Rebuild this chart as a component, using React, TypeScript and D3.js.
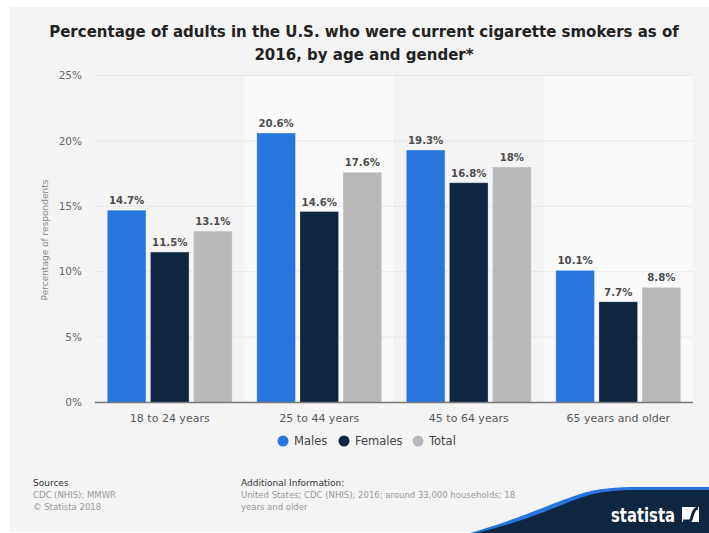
import React from "react";
import * as d3 from "d3";

const categories = ["18 to 24 years", "25 to 44 years", "45 to 64 years", "65 years and older"];
const seriesNames = ["Males", "Females", "Total"];
const males = [14.7, 20.6, 19.3, 10.1];
const females = [11.5, 14.6, 16.8, 7.7];
const total = [13.1, 17.6, 18, 8.8];
const yTicks = [0, 5, 10, 15, 20, 25];
const colors = ["#2876dd", "#0f2640", "#b9b9b9"];
const valueLabels = [
  ["14.7%", "20.6%", "19.3%", "10.1%"],
  ["11.5%", "14.6%", "16.8%", "7.7%"],
  ["13.1%", "17.6%", "18%", "8.8%"],
];

const W = 709;
const H = 533;
const FONT = "'DejaVu Sans', sans-serif";

export default function App() {
  const series = [males, females, total];
  const x0 = d3.scaleBand<string>().domain(categories).range([95, 693]).paddingInner(0).paddingOuter(0);
  const x1 = d3
    .scaleBand<string>()
    .domain(seriesNames)
    .range([0, x0.bandwidth()])
    .paddingInner(0.105)
    .paddingOuter(0.286);
  const y = d3.scaleLinear().domain([0, 25]).range([402.5, 75.5]);

  const legendItems = [
    { name: "Males", cx: 283 },
    { name: "Females", cx: 344 },
    { name: "Total", cx: 418 },
  ];

  const logoPath = "M 476,533 C 528,521 556,506 583,497 C 600,491.5 616,490 640,490 L 709,490 L 709,533 Z";
  const logoBlue = "M 470,533 C 522,518 552,503 580,494 C 598,488.5 615,487 640,487 L 709,487 L 709,533 Z";

  return (
    <svg
      width={W}
      height={H}
      style={{ position: "absolute", left: 0, top: 0, display: "block" }}
      fontFamily={FONT}
    >
      <rect x={0} y={0} width={W} height={H} fill="#ffffff" />
      <rect x={10} y={7} width={W - 10} height={525} fill="#f4f4f4" />

      {/* Title */}
      <text x={364} y={37} textAnchor="middle" fontSize={15} fontWeight="bold" fill="#222">
        Percentage of adults in the U.S. who were current cigarette smokers as of
      </text>
      <text x={364} y={60} textAnchor="middle" fontSize={15} fontWeight="bold" fill="#222">
        2016, by age and gender*
      </text>

      {/* alternating bands */}
      {categories.map((c, i) =>
        i % 2 === 1 ? (
          <rect key={c} x={x0(c)} y={y(25)} width={x0.bandwidth()} height={y(0) - y(25)} fill="#fafafa" />
        ) : null
      )}

      {/* gridlines */}
      {yTicks
        .filter((t) => t > 0)
        .map((t) => (
          <line
            key={t}
            x1={95}
            x2={693}
            y1={y(t)}
            y2={y(t)}
            stroke="#d9d9d9"
            strokeWidth={1}
            strokeDasharray="1,1"
          />
        ))}

      {/* y tick labels */}
      {yTicks.map((t) => (
        <text key={t} x={82} y={y(t)} dy="0.35em" textAnchor="end" fontSize={10.5} fill="#666">
          {t}%
        </text>
      ))}

      {/* y axis title */}
      <text
        transform={`translate(45,240) rotate(-90)`}
        textAnchor="middle"
        dy="0.35em"
        fontSize={9}
        fill="#888"
      >
        Percentage of respondents
      </text>

      {/* bars */}
      {categories.map((c, ci) => (
        <g key={c} transform={`translate(${x0(c)},0)`}>
          {seriesNames.map((s, si) => {
            const v = series[si][ci];
            const bx = x1(s) as number;
            return (
              <g key={s}>
                <rect
                  x={bx}
                  y={y(v)}
                  width={x1.bandwidth()}
                  height={y(0) - y(v)}
                  fill={colors[si]}
                  stroke="#ffffff"
                  strokeOpacity={0.25}
                  strokeWidth={1}
                />
                <text
                  x={bx + x1.bandwidth() / 2}
                  y={y(v) - 6}
                  textAnchor="middle"
                  fontSize={10.2}
                  fontWeight="bold"
                  fill="#4d4d4d"
                >
                  {valueLabels[si][ci]}
                </text>
              </g>
            );
          })}
        </g>
      ))}

      {/* baseline */}
      <line x1={95} x2={693} y1={y(0)} y2={y(0)} stroke="#777" strokeWidth={1.5} />

      {/* x labels */}
      {categories.map((c) => (
        <text
          key={c}
          x={(x0(c) as number) + x0.bandwidth() / 2}
          y={418}
          dy="0.35em"
          textAnchor="middle"
          fontSize={11}
          fill="#595959"
        >
          {c}
        </text>
      ))}

      {/* legend */}
      {legendItems.map((l, i) => (
        <g key={l.name}>
          <circle cx={l.cx} cy={441} r={5.5} fill={colors[i]} />
          <text x={l.cx + 11} y={441} dy="0.35em" fontSize={11.5} fill="#444">
            {l.name}
          </text>
        </g>
      ))}

      {/* footer */}
      <text x={33} y={486} fontSize={9} fill="#333">Sources</text>
      <text x={33} y={498} fontSize={8.5} fill="#999">CDC (NHIS); MMWR</text>
      <text x={33} y={510} fontSize={8.5} fill="#999">© Statista 2018</text>
      <text x={241} y={486} fontSize={9} fill="#333">Additional Information:</text>
      <text x={241} y={498} fontSize={8.5} fill="#999">
        United States; CDC (NHIS); 2016; around 33,000 households; 18
      </text>
      <text x={241} y={510} fontSize={8.5} fill="#999">years and older</text>

      {/* statista logo */}
      <path d={logoBlue} fill="#2876dd" />
      <path d={logoPath} fill="#0f2640" />
      <text
        x={611}
        y={522}
        fontSize={19}
        fontWeight="bold"
        fill="#ffffff"
        textLength={64}
        lengthAdjust="spacingAndGlyphs"
      >
        statista
      </text>
      <rect x={682} y={507} width={17} height={15} fill="#ffffff" />
      <path d="M 683,521 L 690,521 C 692,521 692,508 698,508 L 698,508" fill="none" stroke="#0f2640" strokeWidth={3} />
    </svg>
  );
}
